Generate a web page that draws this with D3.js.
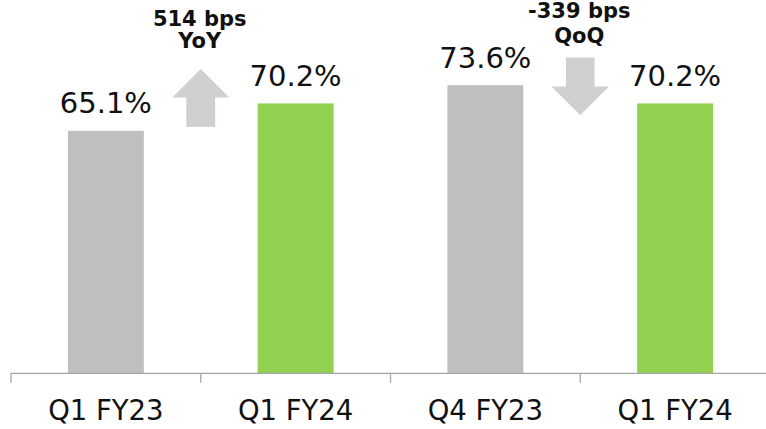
<!DOCTYPE html>
<html>
<head>
<meta charset="utf-8">
<script src="https://cdn.jsdelivr.net/npm/d3@7"></script>
<style>
  html, body { margin: 0; padding: 0; background: #fff; }
  svg { display: block; }
</style>
</head>
<body>
<svg id="chart" width="766" height="429"></svg>
<script>
// Gross margin by quarter
const categories = ["Q1 FY23", "Q1 FY24", "Q4 FY23", "Q1 FY24"];
const values = [65.1, 70.2, 73.6, 70.2];
const barColors = ["#BFBFBF", "#92D050", "#BFBFBF", "#92D050"];
const valueLabels = ["65.1%", "70.2%", "73.6%", "70.2%"];
const changeNotes = [
  { lines: ["514 bps", "YoY"], between: 0, dir: "up" },
  { lines: ["-339 bps", "QoQ"], between: 2, dir: "down" }
];

const svg = d3.select("#chart");
const W = 766, H = 429;
const left = 11, right = 770, baseY = 373.3;

const keys = categories.map((c, i) => i);
const xBand = d3.scaleBand().domain(keys).range([left, right]).paddingInner(0).paddingOuter(0);
const xBar = d3.scaleBand().domain(keys).range([left, right]).paddingInner(0.6).paddingOuter(0.3);
const y = d3.scaleLinear().domain([20, 80]).range([baseY, baseY - 60 * 5.376]);

const font = "'DejaVu Sans', Verdana, sans-serif";

// bars
svg.append("g").selectAll("rect")
  .data(values)
  .join("rect")
  .attr("x", (d, i) => xBar(i))
  .attr("width", xBar.bandwidth())
  .attr("y", d => y(d))
  .attr("height", d => baseY - y(d))
  .attr("fill", (d, i) => barColors[i]);

// value labels
svg.append("g").selectAll("text")
  .data(values)
  .join("text")
  .attr("x", (d, i) => xBar(i) + xBar.bandwidth() / 2)
  .attr("y", d => y(d) - 17.5)
  .attr("text-anchor", "middle")
  .attr("font-family", font)
  .attr("font-size", 29)
  .attr("fill", "#111")
  .text((d, i) => valueLabels[i]);

// category axis: baseline with ticks at band boundaries
const axis = svg.append("g");
axis.append("line")
  .attr("x1", left).attr("x2", W)
  .attr("y1", baseY).attr("y2", baseY)
  .attr("stroke", "#A6A6A6").attr("stroke-width", 1.3);
axis.selectAll("line.tick")
  .data(keys.concat([keys.length]))
  .join("line")
  .attr("class", "tick")
  .attr("x1", i => i < keys.length ? xBand(i) : right)
  .attr("x2", i => i < keys.length ? xBand(i) : right)
  .attr("y1", baseY).attr("y2", baseY + 9.5)
  .attr("stroke", "#A6A6A6").attr("stroke-width", 1.3);
axis.selectAll("text")
  .data(categories)
  .join("text")
  .attr("x", (d, i) => xBand(i) + xBand.bandwidth() / 2)
  .attr("y", 420)
  .attr("text-anchor", "middle")
  .attr("font-family", font)
  .attr("font-size", 27.5)
  .attr("fill", "#111")
  .text(d => d);

// change annotations: arrow + bold note between bar pairs
const arrowFill = "#D0CECF";
changeNotes.forEach(n => {
  const cx = xBand(n.between) + xBand.bandwidth();
  const g = svg.append("g");
  let pts, textBase, lineGap;
  if (n.dir === "up") {
    const tip = 69, wing = 97.5, bottom = 126.7;
    pts = [[cx, tip], [cx + 28.5, wing], [cx + 14.4, wing], [cx + 14.4, bottom],
           [cx - 14.4, bottom], [cx - 14.4, wing], [cx - 28.5, wing]];
    textBase = 26; lineGap = 22.3;
  } else {
    const top = 57.4, wing = 86.5, tip = 115;
    pts = [[cx - 14.3, top], [cx + 14.3, top], [cx + 14.3, wing], [cx + 28.7, wing],
           [cx, tip], [cx - 28.7, wing], [cx - 14.3, wing]];
    textBase = 18; lineGap = 25.3;
  }
  g.append("path")
    .attr("d", d3.line()(pts) + "Z")
    .attr("fill", arrowFill);
  g.selectAll("text")
    .data(n.lines)
    .join("text")
    .attr("x", cx - 1)
    .attr("y", (d, i) => textBase + i * lineGap)
    .attr("text-anchor", "middle")
    .attr("font-family", font)
    .attr("font-weight", "bold")
    .attr("font-size", 21)
    .attr("fill", "#111")
    .text(d => d);
});
</script>
</body>
</html>
